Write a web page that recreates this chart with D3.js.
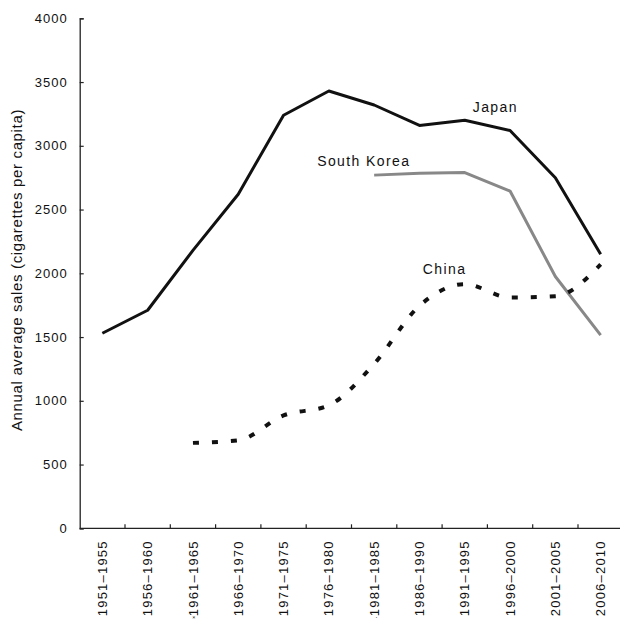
<!DOCTYPE html>
<html>
<head>
<meta charset="utf-8">
<script src="https://cdn.jsdelivr.net/npm/d3@7"></script>
<style>
  html, body { margin: 0; padding: 0; background: #fff; }
  svg { display: block; }
  text { font-family: "Liberation Sans", Arial, sans-serif; fill: #111; }
</style>
</head>
<body>
<svg id="chart" width="620" height="619"></svg>
<script>
const categories = ["1951\u20131955","1956\u20131960","1961\u20131965","1966\u20131970","1971\u20131975","1976\u20131980","1981\u20131985","1986\u20131990","1991\u20131995","1996\u20132000","2001\u20132005","2006\u20132010"];
const labelMarks = ["", "", "\u02DF", "", "", "", "\u00B7", "", "", "", "", ""];
const japan = [1530, 1710, 2180, 2620, 3240, 3430, 3320, 3160, 3200, 3120, 2750, 2150];
const southKorea = [null, null, null, null, null, null, 2770, 2785, 2790, 2645, 1975, 1515];
const china = [null, null, 670, 690, 885, 965, 1290, 1745, 1915, 1810, 1820, 2070];
const yTicks = [0, 500, 1000, 1500, 2000, 2500, 3000, 3500, 4000];
const yTitle = "Annual average sales (cigarettes per capita)";

const svg = d3.select("#chart");
const mLeft = 79.7, mRight = 623.3, mTop = 18.3, mBottom = 528.3;

const x = d3.scaleBand().domain(categories).range([mLeft, mRight]);
const y = d3.scaleLinear().domain([0, 4000]).range([mBottom, mTop]);
const cx = c => x(c) + x.bandwidth() / 2;

// Y axis
const yAxis = svg.append("g").attr("transform", `translate(${mLeft},0)`)
  .call(d3.axisLeft(y).tickValues(yTicks).tickSize(-4).tickPadding(12).tickFormat(d3.format("d")));
yAxis.select(".domain").attr("stroke", "#222").attr("stroke-width", 1.3);
yAxis.selectAll(".tick line").attr("stroke", "#222").attr("stroke-width", 1.2);
yAxis.selectAll(".tick text").style("font-size", "13px").style("letter-spacing", "1px")
  .style("font-family", "'Liberation Sans', Arial, sans-serif").attr("fill", "#111");

// X axis
const xAxis = svg.append("g").attr("transform", `translate(0,${mBottom})`)
  .call(d3.axisBottom(x).tickSize(0).tickFormat(""));
xAxis.select(".domain").remove();
xAxis.selectAll(".tick text").each(function(d, i) {
  const t = d3.select(this)
    .attr("transform", "rotate(-90)")
    .attr("text-anchor", "end")
    .attr("x", -12).attr("y", 0).attr("dy", "0.35em")
    .style("font-size", "13px").style("letter-spacing", "1.2px")
    .style("font-family", "'Liberation Sans', Arial, sans-serif").attr("fill", "#111");
  if (labelMarks[i]) t.append("tspan").style("font-size", "7px").style("letter-spacing", "0px").text(labelMarks[i]);
  t.append("tspan").text(d);
});
svg.append("line").attr("x1", mLeft).attr("x2", 620).attr("y1", mBottom).attr("y2", mBottom)
  .attr("stroke", "#222").attr("stroke-width", 1.3);
svg.append("g").selectAll("line").data(categories.slice(1)).join("line")
  .attr("x1", d => x(d)).attr("x2", d => x(d))
  .attr("y1", mBottom).attr("y2", mBottom - 4)
  .attr("stroke", "#222").attr("stroke-width", 1.2);

// Y title
svg.append("text")
  .attr("transform", `translate(22,270) rotate(-90)`)
  .attr("text-anchor", "middle")
  .style("font-size", "15px").style("letter-spacing", "0.65px")
  .text(yTitle);

// Lines
const mk = (vals) => categories.map((c, i) => ({c, v: vals[i]})).filter(d => d.v != null);
const straight = d3.line().x(d => cx(d.c)).y(d => y(d.v));
const smooth = d3.line().x(d => cx(d.c)).y(d => y(d.v)).curve(d3.curveMonotoneX);

svg.append("path").datum(mk(southKorea)).attr("d", straight)
  .attr("fill", "none").attr("stroke", "#888").attr("stroke-width", 3).attr("stroke-linejoin", "round");
svg.append("path").datum(mk(japan)).attr("d", straight)
  .attr("fill", "none").attr("stroke", "#111").attr("stroke-width", 3).attr("stroke-linejoin", "round");
svg.append("path").datum(mk(china)).attr("d", smooth)
  .attr("fill", "none").attr("stroke", "#111").attr("stroke-width", 4)
  .attr("stroke-dasharray", "6,13");

// Series labels
const lab = [
  {t: "Japan", c: "1991\u20131995", v: 3200, dx: 8, dy: -8},
  {t: "South Korea", c: "1981\u20131985", v: 2770, dx: -57, dy: -9},
  {t: "China", c: "1991\u20131995", v: 1915, dx: -42, dy: -10}
];
svg.append("g").selectAll("text").data(lab).join("text")
  .attr("x", d => cx(d.c) + d.dx).attr("y", d => y(d.v) + d.dy)
  .style("font-size", "14px").style("letter-spacing", "1.4px")
  .text(d => d.t);
</script>
</body>
</html>
